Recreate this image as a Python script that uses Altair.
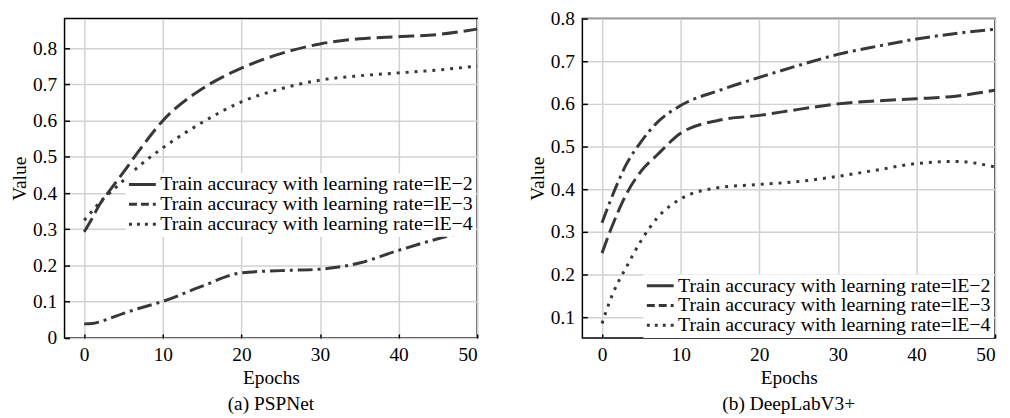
import altair as alt
import pandas as pd

epochs = [0, 1, 2, 3, 5, 7, 10, 15, 20, 25, 30, 35, 40, 45, 50]

series_labels = [
    "Train accuracy with learning rate=lE\u22122",
    "Train accuracy with learning rate=lE\u22123",
    "Train accuracy with learning rate=lE\u22124",
]

# (a) PSPNet
psp_e2 = [0.039, 0.040, 0.045, 0.052, 0.068, 0.082, 0.101, 0.143, 0.180, 0.186, 0.190, 0.207, 0.242, 0.274, 0.300]
psp_e3 = [0.293, 0.330, 0.370, 0.400, 0.458, 0.518, 0.600, 0.688, 0.745, 0.785, 0.812, 0.826, 0.832, 0.838, 0.853]
psp_e4 = [0.325, 0.350, 0.375, 0.395, 0.435, 0.475, 0.525, 0.595, 0.652, 0.688, 0.712, 0.724, 0.732, 0.740, 0.751]

# (b) DeepLabV3+
dl_e2 = [0.321, 0.370, 0.415, 0.455, 0.512, 0.556, 0.596, 0.632, 0.662, 0.690, 0.716, 0.735, 0.752, 0.765, 0.775]
dl_e3 = [0.250, 0.300, 0.345, 0.385, 0.443, 0.480, 0.531, 0.562, 0.573, 0.587, 0.600, 0.607, 0.612, 0.618, 0.632]
dl_e4 = [0.085, 0.138, 0.180, 0.214, 0.280, 0.332, 0.377, 0.404, 0.411, 0.418, 0.430, 0.445, 0.460, 0.465, 0.452]

x_ticks = [0, 10, 20, 30, 40, 50]
psp_y_ticks = [0, 0.1, 0.2, 0.3, 0.4, 0.5, 0.6, 0.7, 0.8]
dl_y_ticks = [0.1, 0.2, 0.3, 0.4, 0.5, 0.6, 0.7, 0.8]

FONT = "'Times New Roman', 'Liberation Serif', serif"
LINE_COLOR = "#383838"
curve_dashes = [[15, 5, 3, 5], [16, 6], [3, 6]]
legend_dashes = [[1, 0], [8, 4], [3, 5]]

PLOT_W = 416
PLOT_H = 322


def make_df(series_values):
    rows = []
    for lab, vals in zip(series_labels, series_values):
        for e, v in zip(epochs, vals):
            rows.append({"Epochs": e, "Value": v, "Series": lab})
    return pd.DataFrame(rows)


def base_legend(leg_x, leg_y):
    return dict(
        title=None,
        orient="none",
        legendX=leg_x,
        legendY=leg_y,
        fillColor="white",
        padding=2,
        labelFont=FONT,
        labelFontSize=20,
        labelColor="black",
        labelLimit=0,
        symbolType="stroke",
        symbolSize=729,
        symbolStrokeWidth=3,
        symbolStrokeColor=LINE_COLOR,
        symbolOpacity=1,
        clipHeight=18.5,
        rowPadding=-2.5,
        labelOffset=3,
    )


def axes(y_domain, y_ticks):
    x = alt.X(
        "Epochs:Q",
        scale=alt.Scale(domain=[-2.5, 50], nice=False, zero=False),
        axis=alt.Axis(
            values=x_ticks, title="Epochs", format="d",
            ticks=True, tickSize={"expr": "-4"}, labelPadding=12, titlePadding=4,
        ),
    )
    y = alt.Y(
        "Value:Q",
        scale=alt.Scale(domain=y_domain, nice=False, zero=False),
        axis=alt.Axis(
            values=y_ticks, title="Value", format="~g",
            ticks=True, tickSize={"expr": "-5"}, labelPadding=13, titlePadding=3,
        ),
    )
    return x, y


def title(caption):
    return alt.TitleParams(
        caption, orient="bottom", anchor="middle", font=FONT,
        fontSize=19.5, fontWeight="normal", color="black", offset=9,
    )


def panel(series_values, y_domain, y_ticks, leg_x, leg_y, caption):
    df = make_df(series_values)
    x, y = axes(y_domain, y_ticks)
    lines = alt.Chart(df).mark_line(
        interpolate="monotone", strokeWidth=3, color=LINE_COLOR, strokeCap="butt"
    ).encode(
        x=x, y=y,
        strokeDash=alt.StrokeDash(
            "Series:N",
            scale=alt.Scale(domain=series_labels, range=curve_dashes),
            legend=None,
        ),
    )
    key = alt.Chart(df).mark_line(
        interpolate="monotone", strokeWidth=3, color=LINE_COLOR, strokeCap="butt", opacity=0
    ).encode(
        x=x, y=y,
        strokeDash=alt.StrokeDash(
            "Series:N",
            scale=alt.Scale(domain=series_labels, range=legend_dashes),
            legend=alt.Legend(**base_legend(leg_x, leg_y)),
        ),
    )
    return alt.layer(lines, key).resolve_scale(strokeDash="independent").properties(
        width=PLOT_W, height=PLOT_H, title=title(caption)
    )


left = panel([psp_e2, psp_e3, psp_e4], [0, 0.882], psp_y_ticks, 61.5, 156, "(a) PSPNet")
right = panel([dl_e2, dl_e3, dl_e4], [0.051, 0.8], dl_y_ticks, 61.5, 258, "(b) DeepLabV3+")

chart = alt.hconcat(left, right, spacing=42).resolve_scale(
    strokeDash="independent"
).resolve_legend(strokeDash="independent").properties(
    padding={"left": 0, "top": -2, "right": 0, "bottom": 0}
).configure_axis(
    labelFont=FONT,
    titleFont=FONT,
    labelFontSize=19.5,
    titleFontSize=19.5,
    titleFontWeight="normal",
    labelColor="black",
    titleColor="black",
    gridColor="#d2d2d2",
    gridWidth=1.5,
    domain=False,
    tickColor="black",
    tickWidth=1.5,
).configure_view(
    stroke="black", strokeWidth=1.5
)

chart.save("out.html", embed_options={"renderer": "svg", "actions": False})
